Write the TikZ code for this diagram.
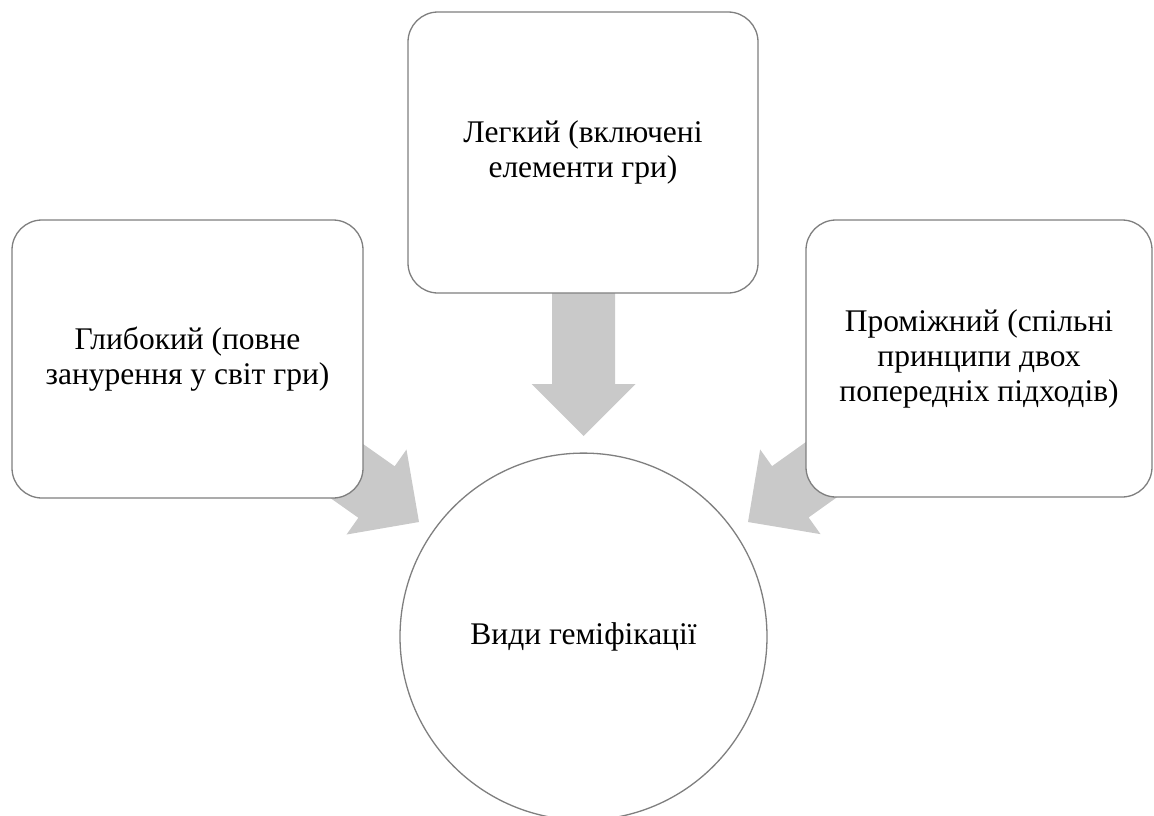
\documentclass[tikz,border=0pt]{standalone}
\usepackage{fontspec}
\setmainfont{Liberation Serif}
\definecolor{edgegray}{HTML}{7F7F7F}
\definecolor{arrowgray}{HTML}{C9C9C9}
\begin{document}
\begin{tikzpicture}[x=1pt,y=-1pt,
  box/.style={draw=edgegray, fill=white, rounded corners=30pt, line width=1.3pt,
    align=center, inner sep=0pt, font=\fontsize{31.5}{35}\selectfont},
  hub/.style={draw=edgegray, fill=white, circle, line width=1.3pt, inner sep=0pt,
    minimum size=367pt, font=\fontsize{31.5}{35}\selectfont},
  blockarrow/.style={fill=arrowgray, draw=none}]
\useasboundingbox (0,0) rectangle (1154,816);
% arrow tips
\coordinate (tipM) at (583.5,436);
\coordinate (tipL) at (419,522);
\coordinate (tipR) at (748,522);
% block arrows (drawn beneath the boxes)
\fill[blockarrow, shift={(tipM)}, rotate=-90]
  (0,0) -- (-52,52) -- (-52,31.5) -- (-145,31.5) -- (-145,-31.5) -- (-52,-31.5) -- (-52,-52) -- cycle;
\fill[blockarrow, shift={(tipL)}, rotate=-35.2]
  (0,0) -- (-52,52) -- (-52,31.5) -- (-120,31.5) -- (-120,-31.5) -- (-52,-31.5) -- (-52,-52) -- cycle;
\fill[blockarrow, shift={(tipR)}, rotate=-144.5]
  (0,0) -- (-52,52) -- (-52,31.5) -- (-120,31.5) -- (-120,-31.5) -- (-52,-31.5) -- (-52,-52) -- cycle;
% boxes
\node[box, minimum width=350pt, minimum height=281pt] (top) at (583,152.5)
  {Легкий (включені\\елементи гри)};
\node[box, minimum width=351pt, minimum height=278pt] (left) at (187.5,359)
  {Глибокий (повне\\занурення у світ гри)};
\node[box, minimum width=346pt, minimum height=277pt] (right) at (979,358.5)
  {Проміжний (спільні\\принципи двох\\попередніх підходів)};
\node[hub] (hub) at (583.5,636.6) {Види геміфікації};
\end{tikzpicture}
\end{document}
